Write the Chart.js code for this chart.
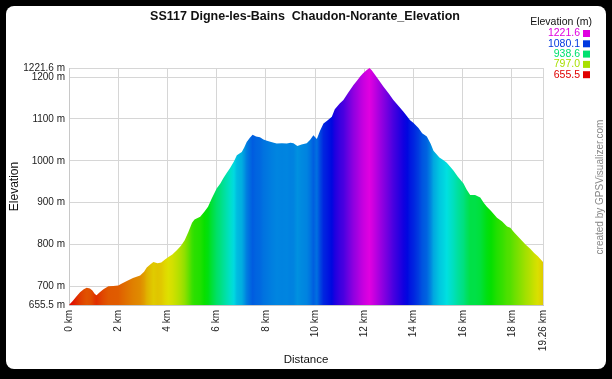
<!DOCTYPE html>
<html>
<head>
<meta charset="utf-8">
<script src="https://cdn.jsdelivr.net/npm/chart.js@4"></script>
<style>
  html, body { margin: 0; padding: 0; background: #000; width: 612px; height: 379px; overflow: hidden; }
  #frame { position: absolute; left: 6px; top: 6px; width: 600px; height: 363px; background: #fff; border-radius: 8px; }
  #c { position: absolute; left: 0; top: 0; }
</style>
</head>
<body>
<div id="frame"></div>
<canvas id="c" width="612" height="379"></canvas>
<script>
const titleText = 'SS117 Digne-les-Bains  Chaudon-Norante_Elevation';
const legendTitle = 'Elevation (m)';
const creditText = 'created by GPSVisualizer.com';
const xTitle = 'Distance';
const yTitle = 'Elevation';

const distKm = [0.00,0.15,0.30,0.45,0.60,0.72,0.85,0.95,1.05,1.12,1.25,1.40,1.60,1.80,2.00,2.15,2.35,2.60,2.89,3.05,3.16,3.30,3.43,3.60,3.75,3.90,4.04,4.20,4.38,4.55,4.70,4.85,5.00,5.10,5.33,5.50,5.65,5.80,6.00,6.15,6.27,6.40,6.54,6.70,6.82,7.02,7.12,7.22,7.35,7.46,7.60,7.76,7.90,8.04,8.25,8.44,8.65,8.85,9.00,9.12,9.28,9.45,9.66,9.80,9.93,10.07,10.20,10.34,10.50,10.68,10.80,11.00,11.15,11.35,11.56,11.70,11.83,11.95,12.10,12.21,12.30,12.44,12.60,12.78,13.00,13.18,13.40,13.59,13.75,13.86,14.00,14.20,14.35,14.54,14.70,14.81,15.05,15.22,15.35,15.50,15.62,15.80,16.03,16.15,16.30,16.50,16.71,16.85,16.98,17.15,17.39,17.60,17.80,17.93,18.10,18.33,18.55,18.74,18.90,19.05,19.26];
const elevM = [655.5,665,676,686,693,697,695,690,682,679,686,693,700,701,702,707,713,720,726,735,745,752,758,755,757,764,770,776,786,797,810,830,852,860,866,878,890,910,934,946,958,970,982,998,1013,1021,1032,1045,1055,1062,1058,1056,1051,1048,1044,1041,1042,1041,1043,1042,1035,1039,1042,1050,1061,1052,1072,1089,1096,1105,1123,1137,1145,1163,1181,1191,1201,1209,1217,1221.6,1216,1205,1192,1177,1160,1145,1130,1117,1105,1097,1090,1078,1066,1058,1040,1024,1008,1001,995,985,977,962,946,932,918,918,912,900,890,880,864,855,843,840,828,814,800,790,780,772,758];

const xTicks = [0,2,4,6,8,10,12,14,16,18,19.26];
const yTicks = [655.5,700,800,900,1000,1100,1200,1221.6];
const legendValues = [1221.6,1080.1,938.6,797.0,655.5];

const elevMin = 655.5, elevMax = 1221.6;
function elevColor(e) {
  let t = (e - elevMin) / (elevMax - elevMin);
  t = Math.max(0, Math.min(1, t));
  const h = t * 300;
  const v = 224;
  const seg = h / 60;
  const i = Math.floor(seg) % 6;
  const f = seg - Math.floor(seg);
  const q = Math.round(v * (1 - f));
  const p = Math.round(v * f);
  let r, g, b;
  switch (i) {
    case 0: r = v; g = p; b = 0; break;
    case 1: r = q; g = v; b = 0; break;
    case 2: r = 0; g = v; b = p; break;
    case 3: r = 0; g = q; b = v; break;
    case 4: r = p; g = 0; b = v; break;
    default: r = v; g = 0; b = q; break;
  }
  if (h >= 300) { r = v; g = 0; b = v; }
  return `rgb(${r},${g},${b})`;
}

const FONT = '"Liberation Sans", Arial, sans-serif';

const overlay = {
  id: 'overlay',
  afterDraw(chart) {
    const ctx = chart.ctx;
    ctx.save();
    ctx.fillStyle = '#111';
    ctx.font = 'bold 12.5px ' + FONT;
    ctx.textAlign = 'center';
    ctx.textBaseline = 'middle';
    ctx.fillText(titleText, 305, 17);

    ctx.font = '10.5px ' + FONT;
    ctx.textAlign = 'right';
    ctx.fillText(legendTitle, 592, 22);
    legendValues.forEach((v, i) => {
      const y = 33.5 + i * 10.3;
      ctx.fillStyle = elevColor(v);
      ctx.fillText(v.toFixed(1), 580, y);
      ctx.fillRect(583, y - 3.5, 7, 7);
    });

    ctx.translate(600, 187);
    ctx.rotate(-Math.PI / 2);
    ctx.fillStyle = '#888';
    ctx.font = '10px ' + FONT;
    ctx.textAlign = 'center';
    ctx.fillText(creditText, 0, 0);
    ctx.restore();
  }
};

new Chart(document.getElementById('c'), {
  type: 'line',
  data: {
    datasets: [{
      data: distKm.map((d, i) => ({ x: d, y: elevM[i] })),
      borderWidth: 0,
      pointRadius: 0,
      tension: 0,
      fill: 'start',
      backgroundColor: (c) => {
        const chart = c.chart;
        const area = chart.chartArea;
        if (!area) return 'rgba(0,0,0,0)';
        const xs = chart.scales.x;
        const g = chart.ctx.createLinearGradient(area.left, 0, area.right, 0);
        distKm.forEach((d, i) => {
          let t = (xs.getPixelForValue(d) - area.left) / (area.right - area.left);
          t = Math.max(0, Math.min(1, t));
          g.addColorStop(t, elevColor(elevM[i]));
        });
        return g;
      }
    }]
  },
  options: {
    responsive: false,
    animation: false,
    devicePixelRatio: 1,
    layout: { padding: { left: 0, top: 68, right: 69, bottom: 0 } },
    plugins: { legend: { display: false }, tooltip: { enabled: false }, title: { display: false } },
    scales: {
      x: {
        type: 'linear',
        min: 0, max: 19.26,
        afterBuildTicks: (s) => { s.ticks = xTicks.map(v => ({ value: v })); },
        afterFit: (s) => { s.height = 74; },
        ticks: {
          autoSkip: false, maxRotation: 90, minRotation: 90, padding: 5,
          color: '#222', font: { size: 10, family: FONT },
          callback: (v) => v + ' km'
        },
        grid: { color: '#d6d6d6', drawTicks: false, lineWidth: 1 },
        border: { display: true, color: '#c8c8c8' },
        title: { display: true, text: xTitle, color: '#111', font: { size: 11.5, family: FONT }, padding: { top: 0, bottom: 12 } }
      },
      y: {
        type: 'linear',
        min: 655.5, max: 1221.6,
        afterBuildTicks: (s) => { s.ticks = yTicks.map(v => ({ value: v })); },
        afterFit: (s) => { s.width = 69; },
        ticks: {
          autoSkip: false, padding: 4,
          color: '#222', font: { size: 10, family: FONT },
          callback: (v) => v + ' m'
        },
        grid: { color: '#d6d6d6', drawTicks: false, lineWidth: 1 },
        border: { display: true, color: '#c8c8c8' },
        title: { display: true, text: yTitle, color: '#111', font: { size: 12, family: FONT }, padding: { top: 7, bottom: 0 } }
      }
    }
  },
  plugins: [overlay]
});
</script>
</body>
</html>
